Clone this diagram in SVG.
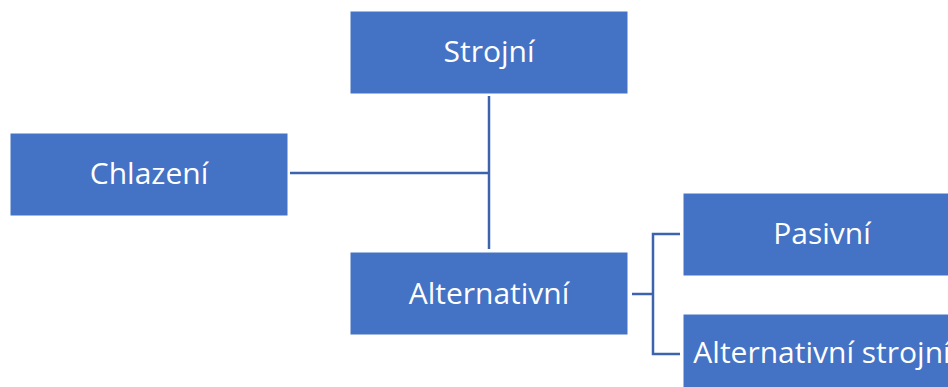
<svg xmlns="http://www.w3.org/2000/svg" width="948" height="387" viewBox="0 0 948 387">
<style>
.box{fill:#4472C4;stroke:#FFFFFF;stroke-width:1}
.lbl{fill:#FFFFFF;font-family:"Open Sans","Noto Sans",sans-serif;font-size:30px;text-anchor:middle}
.con{fill:none;stroke:#3C64AE;stroke-width:2.5}
</style>
<rect width="948" height="387" fill="#FFFFFF"/>
<g id="connectors">
<line class="con" x1="489" y1="96" x2="489" y2="249"/>
<line class="con" x1="290" y1="173" x2="489" y2="173"/>
<line class="con" x1="632" y1="294" x2="653" y2="294"/>
<polyline class="con" points="680,234 653,234 653,354 680,354"/>
</g>
<g id="strojni">
<rect class="box" x="350" y="11" width="278" height="83"/>
<text class="lbl" x="489" y="62">Strojní</text>
</g>
<g id="chlazeni">
<rect class="box" x="10" y="133" width="278" height="83"/>
<text class="lbl" x="149" y="184">Chlazení</text>
</g>
<g id="alternativni">
<rect class="box" x="350" y="252" width="278" height="83"/>
<text class="lbl" x="489" y="304">Alternativní</text>
</g>
<g id="pasivni">
<rect class="box" x="683" y="193" width="278" height="83"/>
<text class="lbl" x="822" y="244">Pasivní</text>
</g>
<g id="alternativni-strojni">
<rect class="box" x="683" y="314" width="278" height="83"/>
<text class="lbl" x="822" y="363">Alternativní strojní</text>
</g>
</svg>
